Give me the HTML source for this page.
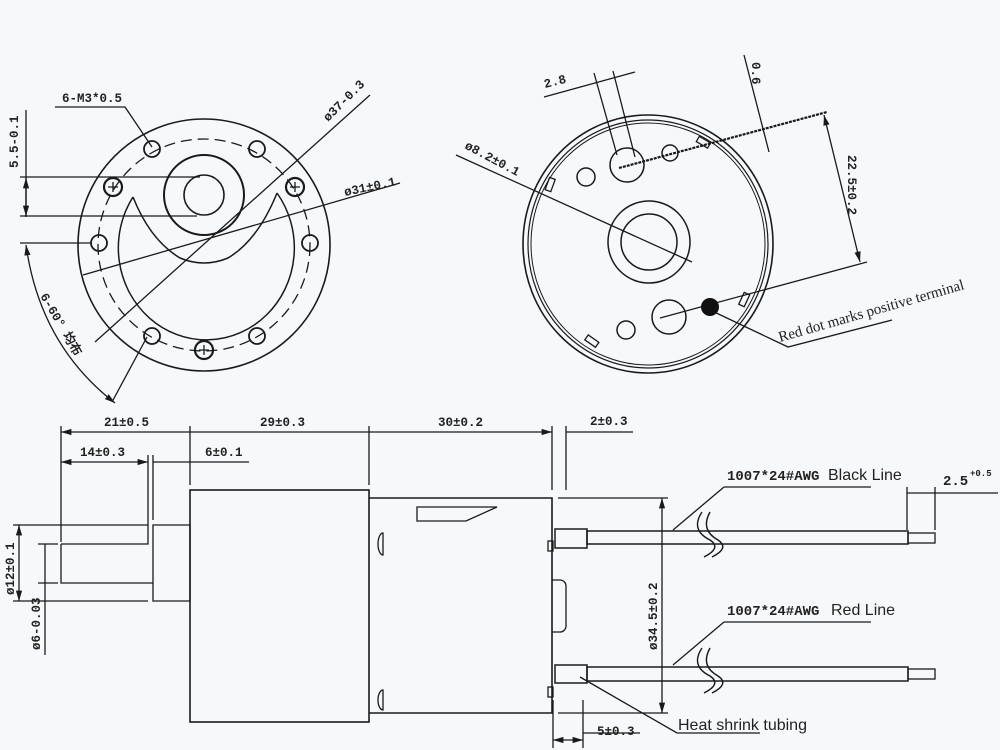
<!DOCTYPE html>
<html><head><meta charset="utf-8"><style>
html,body{margin:0;padding:0;background:#f7f8fa;}
svg{display:block}
.t{font-family:"Liberation Mono",monospace;font-weight:bold;font-size:12.5px;fill:#222}
.s{font-family:"Liberation Sans",sans-serif;font-size:16px;fill:#222}
</style></head><body>
<svg width="1000" height="750" viewBox="0 0 1000 750" xmlns="http://www.w3.org/2000/svg">
<defs>
<marker id="a" viewBox="0 0 10 6" refX="10" refY="3" markerWidth="8" markerHeight="5" orient="auto-start-reverse"><path d="M0,0L10,3L0,6Z" fill="#1a1a1a"/></marker>
</defs>
<rect width="1000" height="750" fill="#f7f8fa"/>
<g stroke="#1a1a1a" fill="none" stroke-width="1.3">
<!-- LEFT FLANGE VIEW -->
<circle cx="204" cy="245" r="126" stroke-width="1.6"/>
<circle cx="204" cy="245" r="106" stroke-dasharray="11,6"/>
<circle cx="204" cy="195" r="40" stroke-width="2"/>
<circle cx="204" cy="195" r="20" stroke-width="1.6"/>
<path d="M133,197 A88,92 0 1 0 277,193" stroke-width="1.5"/>
<path d="M133,197 Q150,240 180,258 Q204,268 228,258 Q258,240 277,193" stroke-width="1.5"/>
<circle cx="152" cy="149" r="8" stroke-width="1.8"/>
<circle cx="257" cy="149" r="8" stroke-width="1.8"/>
<circle cx="99" cy="243" r="8" stroke-width="1.8"/>
<circle cx="310" cy="243" r="8" stroke-width="1.8"/>
<circle cx="152" cy="336" r="8" stroke-width="1.8"/>
<circle cx="257" cy="336" r="8" stroke-width="1.8"/>
<circle cx="113" cy="187" r="9" stroke-width="2.2"/>
<circle cx="295" cy="187" r="9" stroke-width="2.2"/>
<circle cx="204" cy="350" r="9" stroke-width="2.2"/>
<path d="M108,187h10M113,182v10M290,187h10M295,182v10M199,350h10M204,345v10"/>
<path d="M55,107H125L152,147"/>
<path d="M26,110V217M20,177H200M20,216H197M20,243H91"/>
<path d="M26,178V216" marker-start="url(#a)" marker-end="url(#a)"/>
<path d="M370,95L95,342"/>
<path d="M400,183L83,275"/>
<path d="M147,337L112,402"/>
<path d="M26,245 Q40,345 115,403" marker-start="url(#a)" marker-end="url(#a)"/>
<!-- RIGHT END VIEW -->
<ellipse cx="648" cy="244" rx="125" ry="129" stroke-width="1.6"/>
<ellipse cx="648" cy="244" rx="120" ry="124" stroke-width="1.2"/>
<ellipse cx="648" cy="244" rx="117" ry="121" stroke-width="1"/>
<circle cx="649" cy="242" r="41" stroke-width="1.5"/>
<circle cx="649" cy="242" r="28" stroke-width="1.5"/>
<circle cx="627" cy="165" r="17" stroke-width="1.5"/>
<circle cx="586" cy="177" r="9" stroke-width="1.5"/>
<circle cx="670" cy="153" r="8" stroke-width="1.5"/>
<circle cx="669" cy="317" r="17" stroke-width="1.5"/>
<circle cx="626" cy="330" r="9" stroke-width="1.5"/>
<rect x="547" y="178" width="6" height="13" transform="rotate(20 550 185)"/>
<rect x="700" y="136" width="6" height="13" transform="rotate(-60 703 142)"/>
<rect x="741" y="293" width="6" height="13" transform="rotate(25 744 300)"/>
<rect x="588" y="334" width="6" height="13" transform="rotate(-55 592 340)"/>
<path d="M456,155L692,262"/>
<path d="M594,73L617,155M613,71L635,157M544,97L635,72"/>
<path d="M744,55L769,152"/>
<path d="M619,168L827,112" stroke-width="2.2" stroke-dasharray="3,1"/>
<path d="M660,318L867,262"/>
<path d="M824,115L860,262" marker-start="url(#a)" marker-end="url(#a)"/>
<path d="M710,310L788,347L892,320"/>
<!-- SIDE VIEW -->
<rect x="190" y="490" width="179" height="232" stroke-width="1.6"/>
<path d="M369,498H552V713H369" stroke-width="1.6"/>
<path d="M417,507H497L466,521H417Z"/>
<path d="M383,533a5,11 0 0 0 0,22Z M383,690a5,10 0 0 0 0,20Z"/>
<path d="M552,580H560a6,6 0 0 1 6,6V626a6,6 0 0 1 -6,6H552"/>
<rect x="548" y="541" width="5" height="10"/>
<rect x="548" y="687" width="5" height="10"/>
<path d="M153,525H190V601H153Z"/>
<path d="M13,525H148M13,601H148"/>
<path d="M61,544H148V538M61,544V583H153M38,544H58M38,583H58"/>
<path d="M19,525V601" marker-start="url(#a)" marker-end="url(#a)"/>
<path d="M45,544V655"/>
<path d="M61,426V542M190,426V485M369,426V485M552,426V490M566,426V490"/>
<path d="M61,432H190M190,432H369M369,432H552" marker-start="url(#a)" marker-end="url(#a)"/>
<path d="M566,432H633"/>
<path d="M148,455V538M153,455V520M153,462H249"/>
<path d="M61,462H148" marker-start="url(#a)" marker-end="url(#a)"/>
<!-- wires -->
<rect x="555" y="529" width="32" height="19" stroke-width="1.5"/>
<rect x="587" y="531" width="321" height="13" stroke-width="1.5"/>
<rect x="908" y="533" width="27" height="10"/>
<rect x="555" y="665" width="32" height="18" stroke-width="1.5"/>
<rect x="587" y="667" width="321" height="14" stroke-width="1.5"/>
<rect x="908" y="669" width="27" height="10"/>
<path d="M702,512 Q690,530 710,540 Q722,548 704,557 M710,512 Q700,530 718,540 Q730,548 712,557" stroke-width="1.4"/>
<path d="M702,648 Q690,666 710,676 Q722,684 704,693 M710,648 Q700,666 718,676 Q730,684 712,693" stroke-width="1.4"/>
<path d="M558,498H668M558,713H668"/>
<path d="M662,498V713" marker-start="url(#a)" marker-end="url(#a)"/>
<path d="M724,487H871M724,487L673,530M724,622H871M724,622L673,665"/>
<path d="M907,487V530M935,487V530M907,493H998"/>
<path d="M553,700V748M583,700V748M583,733H640"/>
<path d="M553,740H583" marker-start="url(#a)" marker-end="url(#a)"/>
<path d="M580,677L677,733H760"/>
</g>
<circle cx="710" cy="307" r="9" fill="#111"/>
<g class="t">
<text x="62" y="102">6-M3*0.5</text>
<text transform="translate(18,168) rotate(-90)">5.5-0.1</text>
<text transform="translate(328,122) rotate(-45)">ø37-0.3</text>
<text transform="translate(345,196) rotate(-12)">ø31±0.1</text>
<text transform="translate(40,296) rotate(60)">6-60° 均布</text>
<text transform="translate(464,148) rotate(28)">ø8.2±0.1</text>
<text transform="translate(545,88) rotate(-14)">2.8</text>
<text transform="translate(752,62) rotate(90)">0.6</text>
<text transform="translate(848,155) rotate(90)">22.5±0.2</text>
<text x="104" y="426">21±0.5</text>
<text x="260" y="426">29±0.3</text>
<text x="438" y="426">30±0.2</text>
<text x="590" y="425">2±0.3</text>
<text x="80" y="456">14±0.3</text>
<text x="205" y="456">6±0.1</text>
<text transform="translate(14,595) rotate(-90)">ø12±0.1</text>
<text transform="translate(40,650) rotate(-90)">ø6-0.03</text>
<text transform="translate(657,650) rotate(-90)">ø34.5±0.2</text>
<text x="597" y="735">5±0.3</text>
<text x="943" y="485" font-size="14">2.5</text>
<text x="970" y="476" font-size="9">+0.5</text>
<text x="727" y="480" font-size="14">1007*24#AWG</text>
<text x="727" y="615" font-size="14">1007*24#AWG</text>
</g>
<text class="s" x="828" y="480">Black Line</text>
<text class="s" x="831" y="615">Red Line</text>
<text class="s" x="678" y="730">Heat shrink tubing</text>
<text transform="translate(780,342) rotate(-16)" style="font-family:'Liberation Serif',serif;font-size:15px;fill:#222">Red dot marks positive terminal</text>
</svg>
</body></html>
